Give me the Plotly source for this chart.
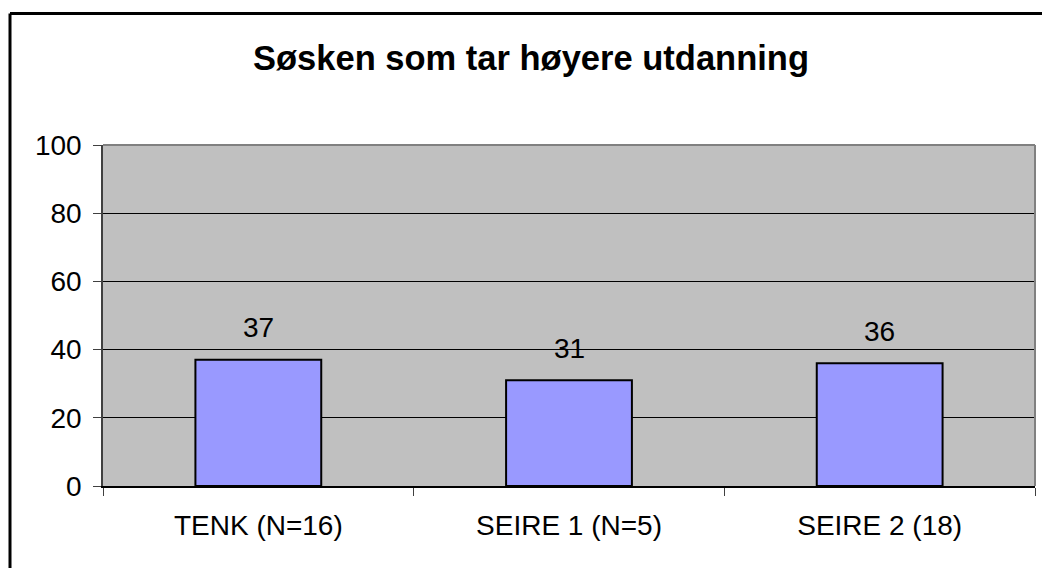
import plotly.graph_objects as go

categories = ["TENK (N=16)", "SEIRE 1 (N=5)", "SEIRE 2 (18)"]
values = [37, 31, 36]
y_ticks = [0, 20, 40, 60, 80, 100]
title_text = "Søsken som tar høyere utdanning"

# body margin is removed by the post_script below, so the figure sits at (0, 0)
W, H = 1042, 568
L, R, T, B = 103, 1035, 145, 486
FONT = "Liberation Sans, Arial, sans-serif"

fig = go.Figure()
fig.add_trace(go.Bar(
    x=categories, y=values, width=0.405,
    marker=dict(color="#9999FF", line=dict(color="black", width=2)),
    hoverinfo="skip",
))

for c, v in zip(categories, values):
    fig.add_annotation(x=c, y=v, text=str(v), showarrow=False,
                       yanchor="middle", yshift=32,
                       font=dict(family=FONT, size=28, color="black"))

def px_x(p):
    return (p - L) / (R - L)

def px_y(p):
    return (B - p) / (B - T)

# outer chart border: only left and top edges are visible in the image
bx0, by0 = px_x(10), px_y(13.5)
fig.add_shape(type="line", xref="paper", yref="paper",
              x0=bx0, x1=bx0, y0=px_y(H + 10), y1=by0,
              line=dict(color="black", width=3), layer="below")
fig.add_shape(type="line", xref="paper", yref="paper",
              x0=bx0, x1=px_x(W + 10), y0=by0, y1=by0,
              line=dict(color="black", width=3), layer="below")
# plot-area grey border top & right
fig.add_shape(type="line", xref="paper", yref="paper", x0=0, x1=1, y0=1, y1=1,
              line=dict(color="#808080", width=2), layer="above")
fig.add_shape(type="line", xref="paper", yref="paper", x0=1, x1=1, y0=0, y1=1,
              line=dict(color="#808080", width=2), layer="above")

fig.update_layout(
    width=W, height=H,
    margin=dict(l=L, r=W - R, t=T, b=H - B),
    paper_bgcolor="white", plot_bgcolor="#C0C0C0",
    showlegend=False,
    title=dict(text="<b>" + title_text + "</b>", x=531 / W, xanchor="center",
               y=1 - 58 / H, yanchor="middle",
               font=dict(family=FONT, size=34.5, color="black")),
    font=dict(family=FONT, color="black"),
    bargap=0.595,
)
fig.update_xaxes(
    type="category", showgrid=False, showline=True, linecolor="black", linewidth=1.5,
    ticks="outside", tickson="boundaries", ticklen=8, tickcolor="#404040", tickwidth=1,
    ticklabelstandoff=14,
    tickfont=dict(family=FONT, size=28, color="black"),
    range=[-0.5, 2.5], fixedrange=True,
)
fig.update_yaxes(
    range=[0, 100], tickvals=y_ticks, ticktext=[str(t) for t in y_ticks],
    showgrid=True, gridcolor="black", gridwidth=1, zeroline=False,
    showline=True, linecolor="#404040", linewidth=1.5,
    ticks="outside", ticklen=8, tickcolor="#404040", tickwidth=1,
    ticklabelstandoff=6,
    tickfont=dict(family=FONT, size=28, color="black"),
    fixedrange=True,
)

fig.write_html("out.html", config={"displayModeBar": False},
               post_script="document.body.style.margin='0';"
                           "document.body.style.overflow='hidden';")
